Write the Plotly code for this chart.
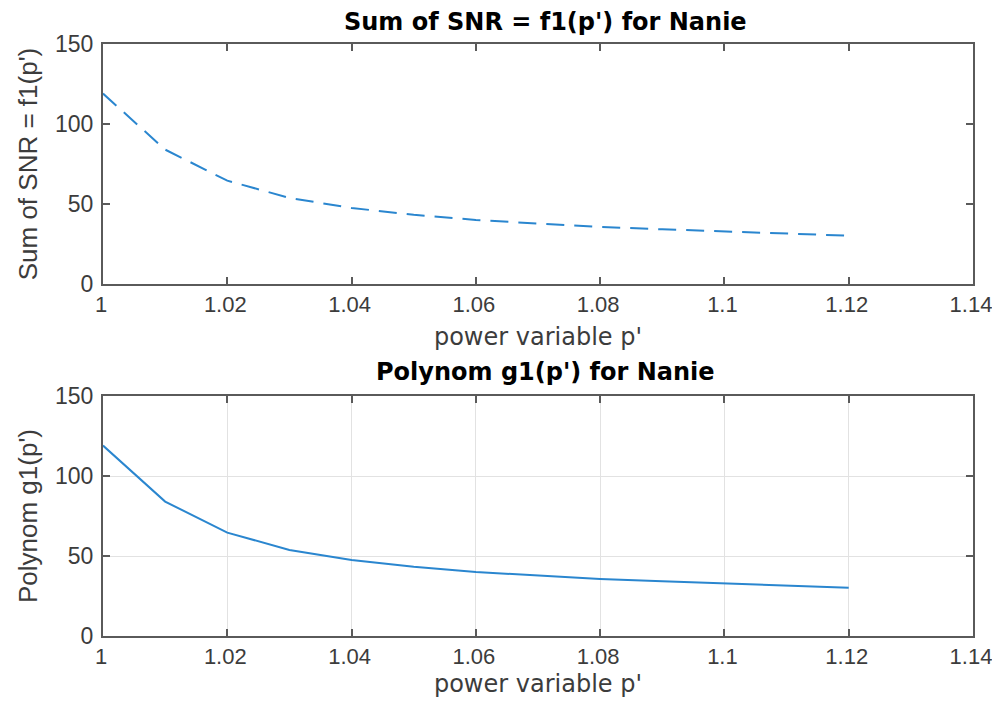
import plotly.graph_objects as go

p_values = [1.00, 1.01, 1.02, 1.03, 1.04, 1.05, 1.06, 1.07, 1.08, 1.09, 1.10, 1.11, 1.12]
snr_sum = [119.0, 84.0, 64.6, 53.8, 47.5, 43.3, 40.0, 37.7, 35.6, 34.2, 32.9, 31.5, 30.2]
poly_g1 = [119.0, 84.0, 64.6, 53.8, 47.5, 43.3, 40.0, 37.7, 35.6, 34.2, 32.9, 31.5, 30.2]

x_ticks = [1, 1.02, 1.04, 1.06, 1.08, 1.1, 1.12, 1.14]
x_tick_text = ["1", "1.02", "1.04", "1.06", "1.08", "1.1", "1.12", "1.14"]
y_ticks = [0, 50, 100, 150]

TICK_FONT = "Liberation Sans, Arial, sans-serif"
WIDE_FONT = "DejaVu Sans, Verdana, sans-serif"
AX = "#5a5a5a"
TXT = "#3c3c3c"
LINE = "#2a86cf"

W, H = 990, 690
L, R, T, B = 95, 25, 36, 62
ph = H - T - B

fig = go.Figure()
fig.add_trace(go.Scatter(x=p_values, y=snr_sum, mode="lines", xaxis="x", yaxis="y",
                         line=dict(color=LINE, width=2, dash="18px,10px"), showlegend=False))
fig.add_trace(go.Scatter(x=p_values, y=poly_g1, mode="lines", xaxis="x2", yaxis="y2",
                         line=dict(color=LINE, width=2), showlegend=False))

dom_top = [(ph - 240) / ph, 1.0]
dom_bot = [0.0, 240 / ph]

common_x = dict(range=[1, 1.14], tickvals=x_ticks, ticktext=x_tick_text,
                showline=True, linecolor=AX, linewidth=2, mirror="ticks",
                ticks="inside", ticklen=7, tickcolor=AX, tickwidth=1.5,
                tickfont=dict(size=22, color=TXT, family=TICK_FONT),
                zeroline=False, automargin=False, ticklabeloverflow="allow",
                ticklabelshift=-2)
common_y = dict(range=[0, 150], tickvals=y_ticks,
                showline=True, linecolor=AX, linewidth=2, mirror="ticks",
                ticks="inside", ticklen=7, tickcolor=AX, tickwidth=1.5,
                tickfont=dict(size=23, color=TXT, family=TICK_FONT),
                zeroline=False, automargin=False, ticklabelstandoff=3)

xtitle_font = dict(size=24, family=WIDE_FONT, color=TXT)
ytitle_font = dict(size=26, family=TICK_FONT, color=TXT)

fig.update_layout(
    width=W, height=H,
    margin=dict(l=L, r=R, t=T, b=B, autoexpand=False),
    paper_bgcolor="white", plot_bgcolor="white",
    xaxis=dict(**common_x, domain=[0, 1], anchor="y", showgrid=False,
               title=dict(text="power variable p'", font=xtitle_font, standoff=12)),
    yaxis=dict(**common_y, domain=dom_top, anchor="x", showgrid=False,
               title=dict(text="Sum of SNR = f1(p')", font=ytitle_font, standoff=10)),
    xaxis2=dict(**common_x, domain=[0, 1], anchor="y2", showgrid=True, gridcolor="#e2e2e2", gridwidth=1,
                title=dict(text="power variable p'", font=xtitle_font, standoff=10)),
    yaxis2=dict(**common_y, domain=dom_bot, anchor="x2", showgrid=True, gridcolor="#e2e2e2", gridwidth=1,
                title=dict(text="Polynom g1(p')", font=ytitle_font, standoff=10)),
)

def py(pix):
    # pixel y in figure coordinates -> paper fraction
    return (H - B - pix) / ph

def px(pix):
    return (pix - L) / (W - L - R)

title_font = dict(size=24, family=WIDE_FONT, color="black")
fig.layout.annotations = [
    dict(text="<b>Sum of SNR = f1(p') for Nanie</b>", x=px(537), xref="paper", y=py(14), yref="paper",
         showarrow=False, font=title_font, yanchor="middle", xanchor="center"),
    dict(text="<b>Polynom g1(p') for Nanie</b>", x=px(537), xref="paper", y=py(364), yref="paper",
         showarrow=False, font=title_font, yanchor="middle", xanchor="center"),
]

fig.write_html("out.html")
